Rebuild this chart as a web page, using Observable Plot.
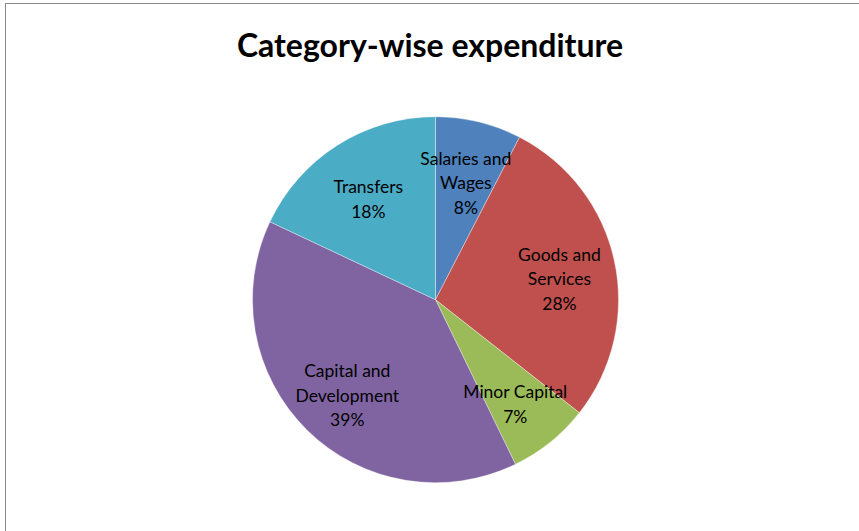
<!DOCTYPE html>
<html><head><meta charset="utf-8">
<script src="https://cdn.jsdelivr.net/npm/d3@7"></script>
<script src="https://cdn.jsdelivr.net/npm/@observablehq/plot@0.6"></script>
<style>
html,body{margin:0;padding:0;background:#fff;overflow:hidden;}
#wrap{position:relative;width:859px;height:531px;}
#border{position:absolute;left:5px;top:3px;width:900px;height:600px;border:1px solid #8a8a8a;box-sizing:border-box;}
#chart{position:absolute;left:0;top:0;}
</style>
</head><body>
<div id="wrap"><div id="border"></div><div id="chart"></div></div>
<script>
const categories = ["Salaries and Wages", "Goods and Services", "Minor Capital", "Capital and Development", "Transfers"];
const labelLines = [["Salaries and", "Wages"], ["Goods and", "Services"], ["Minor Capital"], ["Capital and", "Development"], ["Transfers"]];
const values = [7.6, 28.0, 7.2, 39.2, 18.0];
const colors = ["#4F81BD", "#C0504D", "#9BBB59", "#8064A2", "#4BACC6"];
const title = "Category-wise expenditure";

const W = 859, H = 531, R = 183, CX = 435.5, CY = 299.7;
const data = categories.map((c, i) => ({category: c, value: values[i], color: colors[i], lines: labelLines[i]}));
const total = d3.sum(values);
const arcs = d3.pie().sort(null).value(d => d.value)(data);
const labelR = 0.69;
const labels = arcs.map(a => {
  const m = (a.startAngle + a.endAngle) / 2;
  return {x: labelR * Math.sin(m), y: labelR * Math.cos(m),
          text: a.data.lines.join("\n") + "\n" + Math.round(a.data.value / total * 100) + "%"};
});

const pieMark = (index, scales) => {
  const cx = scales.x(0), cy = scales.y(0), r = scales.x(1) - scales.x(0);
  const g = d3.create("svg:g").attr("transform", `translate(${cx},${cy})`);
  const arc = d3.arc().innerRadius(0).outerRadius(r);
  g.selectAll("path").data(arcs).join("path")
    .attr("d", arc).attr("fill", d => d.data.color)
    .attr("stroke", "#ffffff").attr("stroke-opacity", 0.5).attr("stroke-width", 0.7);
  return g.node();
};

const chart = Plot.plot({
  width: W, height: H, margin: 0,
  style: {background: "transparent", fontFamily: "Lato, sans-serif"},
  x: {domain: [-CX / R, (W - CX) / R], axis: null},
  y: {domain: [-(H - CY) / R, CY / R], axis: null},
  marks: [
    pieMark,
    Plot.text(labels, {x: "x", y: "y", dy: 4, text: "text", fontSize: 17.5, lineHeight: 1.4, fill: "#000", fontFamily: "Lato, sans-serif"}),
    Plot.text([title], {frameAnchor: "top", dy: 46, text: d => d, fontSize: 32, fontWeight: "bold", fill: "#000", fontFamily: "Lato, sans-serif", lineAnchor: "middle"})
  ]
});
document.getElementById("chart").appendChild(chart);
</script>
</body></html>
